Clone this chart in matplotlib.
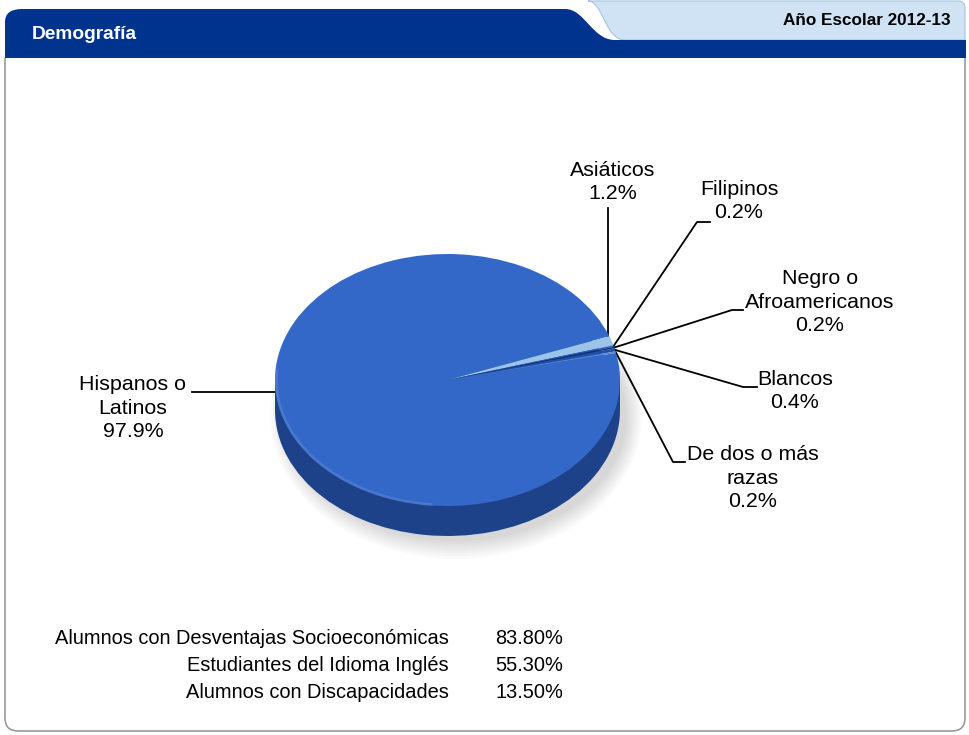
import numpy as np
import matplotlib
matplotlib.use("Agg")
import matplotlib.pyplot as plt
from matplotlib.patches import PathPatch, Rectangle, Ellipse, Arc
from matplotlib.path import Path

plt.rcParams['font.family'] = ['Liberation Sans', 'DejaVu Sans']

# data
groups = ["Hispanos o\nLatinos", "Asiáticos", "Filipinos", "Negro o\nAfroamericanos",
          "Blancos", "De dos o más\nrazas"]
shares = [97.9, 1.2, 0.2, 0.2, 0.4, 0.2]
slice_colors = ["#3468c8", "#9cc3e8", "#2a5bb5", "#0b2f78", "#1f4fa8", "#5a86d6"]

table_labels = ["Alumnos con Desventajas Socioeconómicas",
                "Estudiantes del Idioma Inglés",
                "Alumnos con Discapacidades"]
table_values = ["83.80%", "55.30%", "13.50%"]

W, H = 969, 735
fig = plt.figure(figsize=(W / 100, H / 100), dpi=100)

# background layer in pixel coordinates (y down)
bg = fig.add_axes([0, 0, 1, 1])
bg.set_xlim(0, W)
bg.set_ylim(H, 0)
bg.axis("off")

# light tab (top right)
light = Path([(588, 1), (603, 1), (605, 40), (625, 40), (960, 40), (965, 40),
              (965, 8), (965, 1), (958, 1), (588, 1)],
             [Path.MOVETO, Path.CURVE4, Path.CURVE4, Path.CURVE4, Path.LINETO,
              Path.LINETO, Path.LINETO, Path.CURVE3, Path.CURVE3, Path.CLOSEPOLY])
bg.add_patch(PathPatch(light, facecolor="#cfe3f5", edgecolor="#a9c3dd", lw=0.8, zorder=1))

# dark tab
dark = Path([(5, 58), (5, 22), (5, 9), (22, 9), (565, 9), (585, 9), (592, 40), (615, 40),
             (966, 40), (966, 58), (5, 58)],
            [Path.MOVETO, Path.LINETO, Path.CURVE3, Path.CURVE3, Path.LINETO,
             Path.CURVE4, Path.CURVE4, Path.CURVE4, Path.LINETO, Path.LINETO, Path.CLOSEPOLY])
bg.add_patch(PathPatch(dark, facecolor="#00338d", edgecolor="none", zorder=2))

# content frame with rounded bottom corners
frame = Path([(5, 58), (5, 718), (5, 731), (18, 731), (952, 731), (965, 731), (965, 718),
              (965, 58)],
             [Path.MOVETO, Path.LINETO, Path.CURVE3, Path.CURVE3, Path.LINETO,
              Path.CURVE3, Path.CURVE3, Path.LINETO])
bg.add_patch(PathPatch(frame, facecolor="none", edgecolor="#9a9a9a", lw=1.2, zorder=2))

bg.text(32, 34, "Demografía", color="white", fontsize=13.8, fontweight="bold",
        va="center", ha="left", zorder=3)
bg.text(951, 20, "Año Escolar 2012-13", color="black", fontsize=12.3, fontweight="bold",
        va="center", ha="right", zorder=3)

# pie geometry in pixels
cx, cy, rx, ry, depth = 447.5, 380, 172.5, 126, 30
d = depth / ry
pad = 0.04
x0 = cx - (1 + pad) * rx
x1 = cx + (1 + pad) * rx
ytop = cy - (1 + pad) * ry
ybot = cy + (1 + pad + d) * ry
ax = fig.add_axes([x0 / W, 1 - ybot / H, (x1 - x0) / W, (ybot - ytop) / H])

# soft shadow
for k in range(8):
    ax.add_patch(Ellipse((0.05, -d - 0.05), 1.98 + 0.025 * k, 1.98 + 0.04 * k,
                         facecolor="black", edgecolor="none", alpha=0.02, zorder=0,
                         clip_on=False))

# side of the disc
side_color = "#1d4289"
side, _ = ax.pie(shares, radius=1, center=(0, -d), colors=[side_color] * len(shares),
                 startangle=12.4, counterclock=False, wedgeprops=dict(linewidth=0))
for w in side:
    w.set_zorder(1)
ax.add_patch(Rectangle((-1, -d), 2, d, facecolor=side_color, edgecolor="none", zorder=1))

# top face
wedges, _ = ax.pie(shares, radius=1, center=(0, 0), colors=slice_colors,
                   startangle=12.4, counterclock=False, wedgeprops=dict(linewidth=0))
for w in wedges:
    w.set_zorder(3)
ax.add_patch(Arc((0, 0), 1.985, 1.985, theta1=175, theta2=265, color="#6f98e0", lw=2,
                 alpha=0.35, zorder=4))

ax.set_aspect("auto")
ax.set_xlim(-1 - pad, 1 + pad)
ax.set_ylim(-1 - pad - d, 1 + pad)
ax.axis("off")


def edge_px(angle_deg):
    a = np.deg2rad(angle_deg)
    px, py = ax.transData.transform((np.cos(a), np.sin(a)))
    return px, H - py


# labels: text center, elbow point, stub end (pixel positions)
label_pos = [(133, 408), (613, 182), (739, 201), (820, 302), (795, 391), (753, 478)]
elbows = [None, (608, 208), (697, 222), (732, 310), (743, 387), (673, 462)]
stub_end = [None, None, (710, 222), (743, 310), (757, 387), (685, 462)]

for i, w in enumerate(wedges):
    name = groups[i]
    txt = f"{name}\n{shares[i]:.1f}%"
    tx, ty = label_pos[i]
    bg.text(tx, ty, txt, ha="center", va="center", fontsize=15.4, linespacing=1.33, zorder=5)
    if i == 0:
        ly = 392
        ex = cx - rx * np.sqrt(1 - ((ly - cy) / ry) ** 2)
        bg.plot([192, ex], [ly, ly], color="black", lw=1.3, zorder=5)
        continue
    mid = (w.theta1 + w.theta2) / 2
    ax_, ay_ = edge_px(mid)
    ex, ey = elbows[i]
    if stub_end[i] is None:
        bg.plot([ex, ex], [ay_, ey], color="black", lw=1.3, zorder=5)
    else:
        sx, sy = stub_end[i]
        bg.plot([ax_, ex, sx], [ay_, ey, sy], color="black", lw=1.3, zorder=5)

# bottom table
for j, (lab, val) in enumerate(zip(table_labels, table_values)):
    y = 638 + 27.5 * j
    bg.text(449, y, lab, ha="right", va="center", fontsize=14.4)
    bg.text(563, y, val, ha="right", va="center", fontsize=14.4)

bg.set_zorder(0)
ax.set_zorder(1)
ax.patch.set_alpha(0)
fig.savefig("out.png", dpi=100)
